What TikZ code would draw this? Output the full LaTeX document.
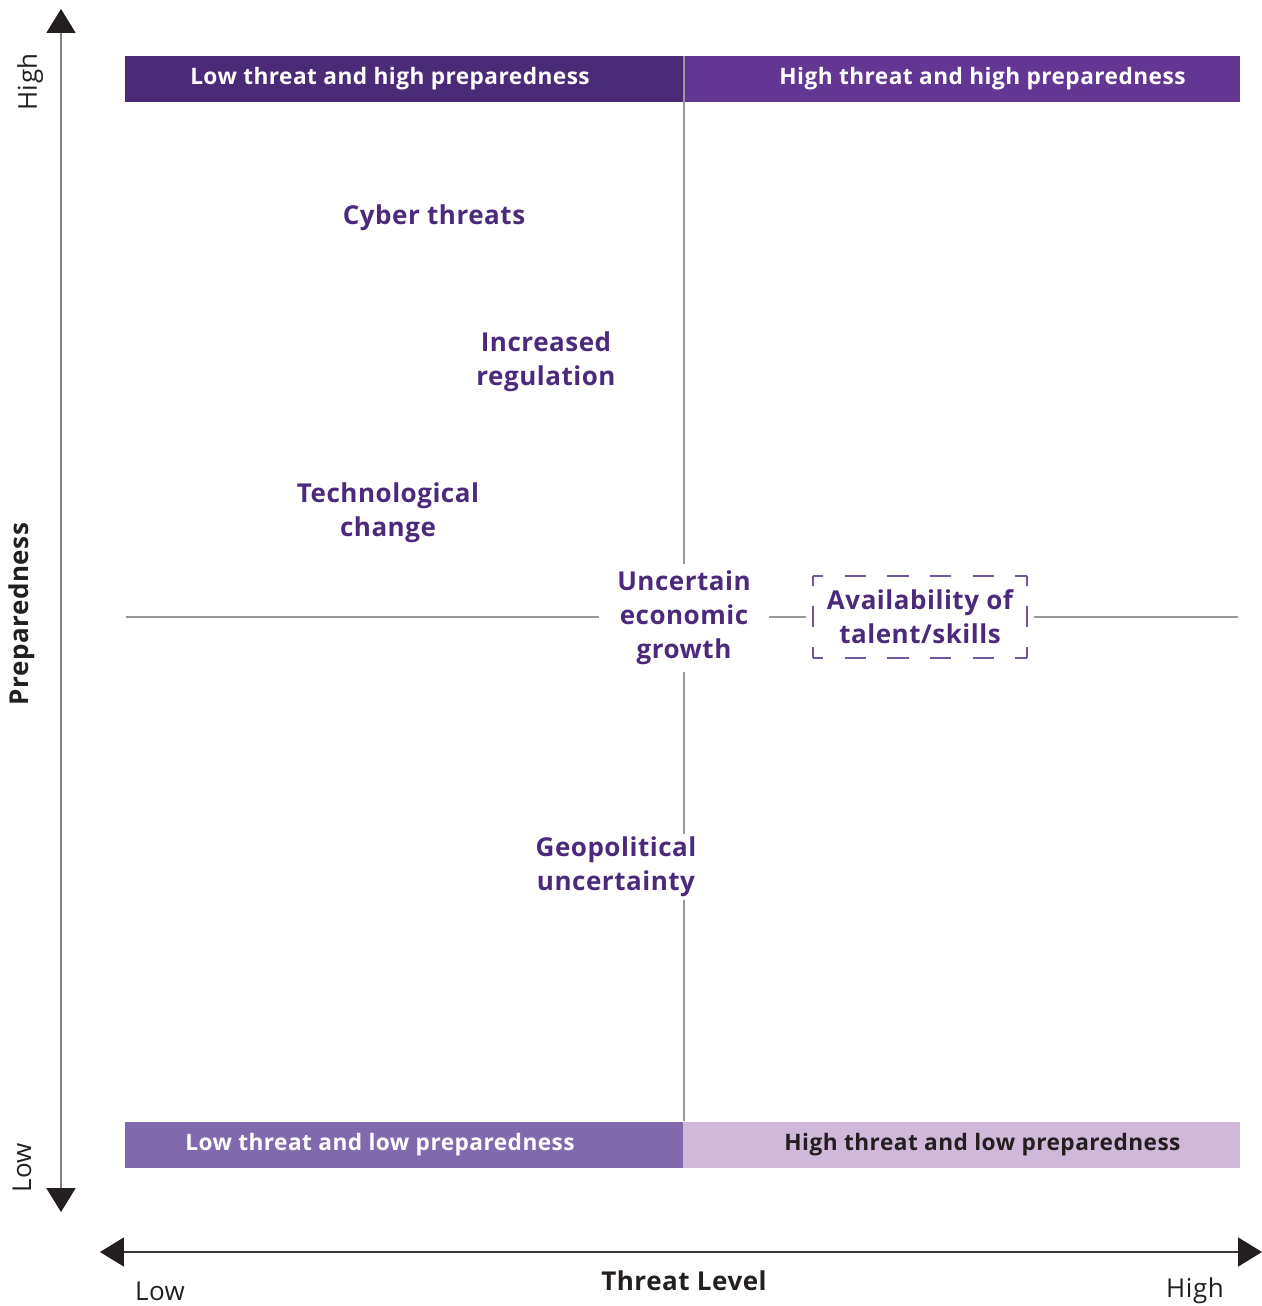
\documentclass[tikz,border=0pt]{standalone}
\usepackage{fontspec}
\setmainfont{Open Sans}[LetterSpace=2.0]
\usetikzlibrary{arrows.meta}

\definecolor{plumdeep}{HTML}{4B2A78}
\definecolor{plumbright}{HTML}{633694}
\definecolor{plummid}{HTML}{8169AE}
\definecolor{plumpale}{HTML}{D0B8D8}
\definecolor{plumtext}{HTML}{4B2A7B}
\definecolor{axisdark}{HTML}{231F20}
\definecolor{quadgray}{HTML}{999999}

\begin{document}
\begin{tikzpicture}[x=0.02cm,y=-0.02cm,
    bar/.style={minimum width=11.16cm,minimum height=0.92cm,inner sep=0pt,
      font=\fontsize{12.9}{15}\selectfont\bfseries},
    risk/.style={text=plumtext,align=center,inner sep=1pt,
      font=\fontsize{14.8}{19.3}\selectfont\bfseries},
    quad/.style={draw=quadgray,line width=1.1pt},
    axistext/.style={text=axisdark,font=\fontsize{14.8}{17}\selectfont},
    axtip/.tip={Triangle[length=13.6pt,width=16.5pt,color=axisdark]}]
  \useasboundingbox (0,0) rectangle (1262,1306);

  % quadrant headers
  \node[bar,fill=plumdeep,text=white]  (lowhigh)  at (404,79)    {Low threat and high preparedness\kern0.56cm};
  \node[bar,fill=plumbright,text=white](highhigh) at (961.5,79)  {\kern0.84cm High threat and high preparedness};
  \node[bar,fill=plummid,text=white]   (lowlow)   at (404,1144.5){\raisebox{-2pt}{Low threat and low preparedness}\kern0.96cm};
  \node[bar,fill=plumpale,text=axisdark](highlow) at (961.5,1144.5){\kern0.84cm\raisebox{-3pt}{High threat and low preparedness}};

  % risks
  \node[risk] (cyber)      at (434,218) {Cyber threats};
  \node[risk] (regulation) at (546,362) {Increased\\regulation};
  \node[risk] (techchange) at (388,513) {Technological\\change};
  \node[risk,inner xsep=10pt,inner ysep=4pt] (econ) at (684,618) {Uncertain\\economic\\growth};
  \node[risk,minimum width=4.28cm,minimum height=1.64cm] (talent) at (920,617) {Availability of\\talent/skills};

  % dashed frame with full corners
  \draw[plummid!70!plumdeep,line width=1.1pt,dash pattern=on 12.13pt off 12.13pt,dash phase=6.07pt]
    (talent.north west) -- (talent.north east)
    (talent.south west) -- (talent.south east);
  \draw[plummid!70!plumdeep,line width=1.1pt,dash pattern=on 11.62pt off 11.62pt,dash phase=5.81pt]
    (talent.north west) -- (talent.south west)
    (talent.north east) -- (talent.south east);

  % quadrant lines
  \coordinate (qwest)  at (126,617);
  \coordinate (qeast)  at (1238,617);
  \coordinate (qnorth) at (684,56);
  \coordinate (qsouth) at (684,1121);
  \draw[quad] (qwest) -- (qwest -| econ.west);
  \draw[quad,shorten >=4pt] (econ.east |- talent) -- (talent);
  \draw[quad,shorten <=4pt] (talent) -- (qeast);
  \draw[quad] (qnorth) -- (econ);
  \draw[quad] (econ) -- (qsouth);
  \node[risk,fill=white,inner sep=2pt] (geopol) at (616,867) {Geopolitical\\uncertainty};

  % axes
  \coordinate (ptop) at (61,9);
  \coordinate (pbot) at (61,1212);
  \coordinate (tleft)  at (100,1252);
  \coordinate (tright) at (1262,1252);
  \draw[draw=gray,line width=1.1pt,{axtip}-{axtip}] (ptop) -- (pbot);
  \draw[draw=axisdark!90,line width=0.8pt,{axtip}-{axtip}] (tleft) -- (tright);

  \node[axistext,rotate=90] (phigh) at (30,82)   {High};
  \node[axistext,rotate=90] (plow)  at (22,1168) {Low};
  \node[axistext,rotate=90,font=\fontsize{14.8}{17}\selectfont\bfseries] (plabel) at (22,614) {Preparedness};
  \node[axistext,font=\fontsize{14.8}{17}\selectfont\bfseries] (tlabel) at (684,1281) {Threat Level};
  \node[axistext] (tlow)  at (160,1291)  {Low};
  \node[axistext] (thigh) at (1195,1291) {High};
\end{tikzpicture}
\end{document}
